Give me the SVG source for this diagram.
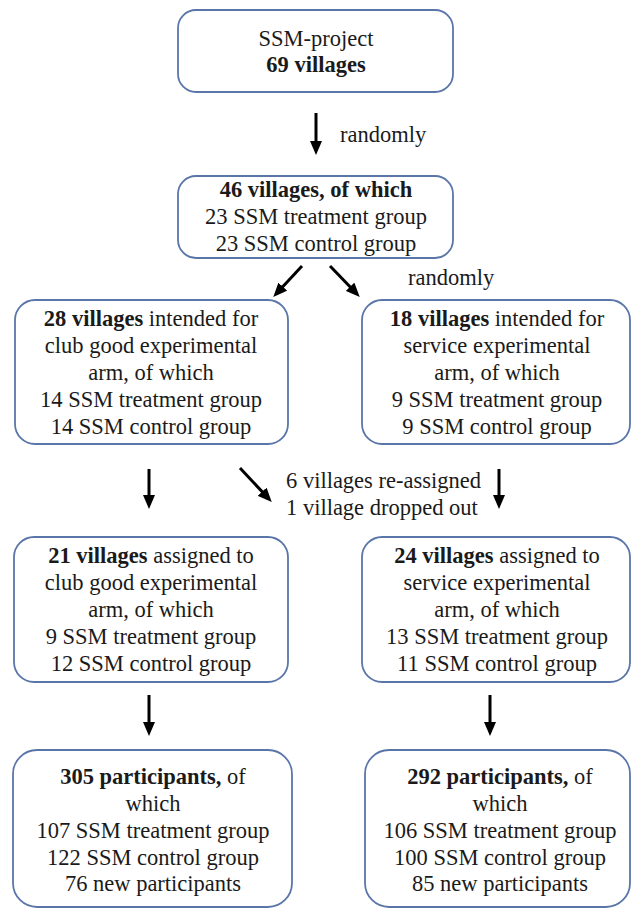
<svg xmlns="http://www.w3.org/2000/svg" width="632" height="909" viewBox="0 0 632 909">
<style>
.box{fill:#ffffff;stroke:#5a76a8;stroke-width:1.8}
text{font-family:'Liberation Serif', 'Times New Roman', serif;font-size:22.5px;fill:#1a1a1a}
.t{text-anchor:middle}
.b{font-weight:bold}
.arr{stroke:#000;stroke-width:3;fill:none;marker-end:url(#ah)}
</style>
<defs>
<marker id="ah" viewBox="0 0 14 12" refX="10" refY="6" markerWidth="14" markerHeight="12" markerUnits="userSpaceOnUse" orient="auto">
<path d="M0,0 L14,6 L0,12 z" fill="#000"/>
</marker>
</defs>
<rect width="632" height="909" fill="#ffffff"/>
<g id="connectors">
<line class="arr" x1="316" y1="113" x2="316" y2="151"/>
<line class="arr" x1="302" y1="266" x2="276" y2="294"/>
<line class="arr" x1="330" y1="266" x2="357" y2="294"/>
<line class="arr" x1="149" y1="469" x2="149" y2="505"/>
<line class="arr" x1="240" y1="468" x2="269" y2="499"/>
<line class="arr" x1="499" y1="469" x2="499" y2="505"/>
<line class="arr" x1="149" y1="695" x2="149" y2="732"/>
<line class="arr" x1="490" y1="695" x2="490" y2="732"/>
<text x="340" y="142">randomly</text>
<text x="408" y="285">randomly</text>
<text x="286" y="488">6 villages re-assigned</text>
<text x="286" y="515">1 village dropped out</text>
</g>
<g id="n1">
<rect class="box" x="178" y="10" width="275" height="82" rx="18"/>
<text class="t" x="316" y="46">SSM-project</text>
<text class="t b" x="316" y="72">69 villages</text>
</g>
<g id="n2">
<rect class="box" x="178" y="176" width="275" height="82" rx="18"/>
<text class="t b" x="316" y="197">46 villages, of which</text>
<text class="t" x="316" y="224">23 SSM treatment group</text>
<text class="t" x="316" y="251">23 SSM control group</text>
</g>
<g id="n3">
<rect class="box" x="15" y="300" width="273" height="144" rx="20"/>
<text class="t" x="151" y="326"><tspan class="b">28 villages</tspan> intended for</text>
<text class="t" x="151" y="353">club good experimental</text>
<text class="t" x="151" y="380">arm, of which</text>
<text class="t" x="151" y="407">14 SSM treatment group</text>
<text class="t" x="151" y="434">14 SSM control group</text>
</g>
<g id="n4">
<rect class="box" x="362" y="300" width="268" height="144" rx="20"/>
<text class="t" x="497" y="326"><tspan class="b">18 villages</tspan> intended for</text>
<text class="t" x="497" y="353">service experimental</text>
<text class="t" x="497" y="380">arm, of which</text>
<text class="t" x="497" y="407">9 SSM treatment group</text>
<text class="t" x="497" y="434">9 SSM control group</text>
</g>
<g id="n5">
<rect class="box" x="14" y="537" width="274" height="145" rx="20"/>
<text class="t" x="151" y="563"><tspan class="b">21 villages</tspan> assigned to</text>
<text class="t" x="151" y="590">club good experimental</text>
<text class="t" x="151" y="617">arm, of which</text>
<text class="t" x="151" y="644">9 SSM treatment group</text>
<text class="t" x="151" y="671">12 SSM control group</text>
</g>
<g id="n6">
<rect class="box" x="362" y="537" width="268" height="145" rx="20"/>
<text class="t" x="497" y="563"><tspan class="b">24 villages</tspan> assigned to</text>
<text class="t" x="497" y="590">service experimental</text>
<text class="t" x="497" y="617">arm, of which</text>
<text class="t" x="497" y="644">13 SSM treatment group</text>
<text class="t" x="497" y="671">11 SSM control group</text>
</g>
<g id="n7">
<rect class="box" x="13" y="750" width="279" height="157" rx="24"/>
<text class="t" x="153" y="784"><tspan class="b">305 participants,</tspan> of</text>
<text class="t" x="153" y="811">which</text>
<text class="t" x="153" y="838">107 SSM treatment group</text>
<text class="t" x="153" y="865">122 SSM control group</text>
<text class="t" x="153" y="891">76 new participants</text>
</g>
<g id="n8">
<rect class="box" x="365" y="750" width="265" height="157" rx="24"/>
<text class="t" x="500" y="784"><tspan class="b">292 participants,</tspan> of</text>
<text class="t" x="500" y="811">which</text>
<text class="t" x="500" y="838">106 SSM treatment group</text>
<text class="t" x="500" y="865">100 SSM control group</text>
<text class="t" x="500" y="891">85 new participants</text>
</g>
</svg>
